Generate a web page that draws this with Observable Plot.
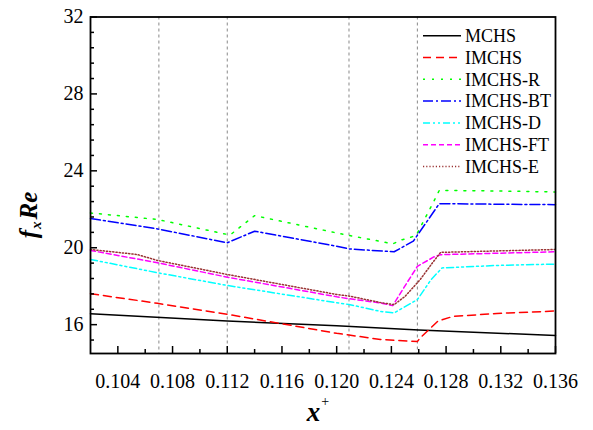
<!DOCTYPE html>
<html><head><meta charset="utf-8">
<script src="https://cdn.jsdelivr.net/npm/d3@7"></script>
<script src="https://cdn.jsdelivr.net/npm/@observablehq/plot@0.6"></script>
<style>
body{margin:0;background:#fff}
svg{display:block}
svg text, svg tspan { font-family: "Liberation Serif", "Times New Roman", serif !important; }
</style>
</head><body><div id="chart"></div>
<script>
// ---- data ----
const seriesNames = ["MCHS", "IMCHS", "IMCHS-R", "IMCHS-BT", "IMCHS-D", "IMCHS-FT", "IMCHS-E"];
const seriesColors = ["#000000", "#ff0000", "#00ff00", "#0000ff", "#00ffff", "#ff00ff", "#993333"];
const seriesDash = ["none", "8,5", "2,7", "10,3,2,3", "7,3,2,3,2,3", "5,3", "1.2,2"];

const MCHS = [[0.102,16.57],[0.112,16.19],[0.120,15.94],[0.126,15.72],[0.136,15.44]];
const IMCHS = [[0.102,17.61],[0.1069,17.11],[0.112,16.54],[0.120,15.55],[0.1209,15.46],[0.1232,15.23],[0.1259,15.12],[0.1261,15.31],[0.1274,16.18],[0.1285,16.43],[0.1317,16.58],[0.136,16.71]];
const IMCHS_R = [[0.102,21.81],[0.1069,21.47],[0.1122,20.66],[0.1140,21.67],[0.120,20.77],[0.1209,20.64],[0.1232,20.33],[0.1241,20.2],[0.1248,20.42],[0.1258,20.63],[0.1264,21.45],[0.1271,22.41],[0.1275,22.98],[0.132,22.95],[0.136,22.9]];
const IMCHS_BT = [[0.102,21.52],[0.1069,20.98],[0.112,20.26],[0.1140,20.86],[0.120,20.08],[0.1209,19.94],[0.1242,19.79],[0.1256,20.34],[0.1275,22.29],[0.136,22.24]];
const IMCHS_D = [[0.102,19.39],[0.1069,18.70],[0.112,18.04],[0.120,17.14],[0.1209,17.05],[0.1232,16.69],[0.1242,16.61],[0.1259,17.3],[0.1269,18.34],[0.1277,18.95],[0.1317,19.08],[0.136,19.15]];
const IMCHS_FT = [[0.102,19.86],[0.1069,19.22],[0.112,18.47],[0.120,17.45],[0.1209,17.35],[0.1232,17.13],[0.1241,16.99],[0.1249,17.91],[0.1259,19.03],[0.1271,19.52],[0.1276,19.64],[0.136,19.79]];
const IMCHS_E = [[0.102,19.91],[0.1054,19.65],[0.1069,19.34],[0.112,18.61],[0.120,17.57],[0.1209,17.49],[0.1232,17.15],[0.1242,17.04],[0.1250,17.47],[0.1261,18.34],[0.1270,19.21],[0.1276,19.76],[0.136,19.91]];
const seriesValues = [MCHS, IMCHS, IMCHS_R, IMCHS_BT, IMCHS_D, IMCHS_FT, IMCHS_E];

const refLinesX = [0.107, 0.112, 0.1209, 0.1259];
const xMajorTicks = [0.104, 0.108, 0.112, 0.116, 0.120, 0.124, 0.128, 0.132, 0.136];
const xMinorTicks = [0.106, 0.110, 0.114, 0.118, 0.122, 0.126, 0.130, 0.134];
const yMajorTicks = [16, 20, 24, 28, 32];
const yMinorTicks = [15.2, 16.8, 17.6, 18.4, 19.2, 20.8, 21.6, 22.4, 23.2, 24.8, 25.6, 26.4, 27.2, 28.8, 29.6, 30.4, 31.2];

// ---- build ----
const rows = seriesValues.flatMap((pts, i) => pts.map(([x, y]) => ({series: seriesNames[i], x, y})));
const font = "'Liberation Serif', 'Times New Roman', serif";

const lineMarks = seriesNames.map((name, i) =>
  Plot.line(rows.filter(d => d.series === name), {
    x: "x", y: "y", stroke: seriesColors[i], strokeWidth: 1.5,
    strokeDasharray: seriesDash[i] === "none" ? null : seriesDash[i]
  })
);

const chart = Plot.plot({
  width: 593, height: 430,
  marginLeft: 90, marginRight: 38, marginTop: 16.5, marginBottom: 77,
  style: {fontFamily: font, fontSize: "20px", color: "#000", background: "#fff"},
  x: {domain: [0.102, 0.136], label: null},
  y: {domain: [14.5, 32], label: null},
  marks: [
    Plot.ruleX(refLinesX, {stroke: "#888", strokeWidth: 1, strokeDasharray: "3,3"}),
    ...lineMarks,
    Plot.axisX(xMajorTicks, {tickSize: -7, tickPadding: 27, strokeWidth: 1.5, tickFormat: d3.format(".3f"), label: null}),
    Plot.axisX(xMinorTicks, {tickSize: -4, strokeWidth: 1.5, tickFormat: () => "", label: null}),
    Plot.axisY(yMajorTicks, {tickSize: -7, tickPadding: 14, strokeWidth: 1.5, tickFormat: d3.format("d"), label: null}),
    Plot.axisY(yMinorTicks, {tickSize: -4, strokeWidth: 1.5, tickFormat: () => "", label: null}),
    Plot.frame({stroke: "#000", strokeWidth: 1.8})
  ]
});

const svg = d3.select(chart);

// legend (inside plot area, top right)
const lg = svg.append("g").attr("font-size", 18).attr("text-anchor", "start");
seriesNames.forEach((name, i) => {
  const yy = 35.7 + i * 21.8;
  lg.append("line").attr("x1", 423).attr("x2", 461).attr("y1", yy).attr("y2", yy)
    .attr("stroke", seriesColors[i]).attr("stroke-width", 1.5)
    .attr("stroke-dasharray", seriesDash[i] === "none" ? null : seriesDash[i]);
  lg.append("text").attr("x", 465).attr("y", yy).attr("dy", "0.35em")
    .attr("text-anchor", "start").attr("fill", "#000").text(name);
});

// y axis label: f_x Re
const yl = svg.append("text").attr("transform", "translate(37,215) rotate(-90)")
  .attr("text-anchor", "middle").attr("font-weight", "bold")
  .attr("font-style", "italic").attr("font-size", 25).attr("fill", "#000");
yl.append("tspan").text("f");
yl.append("tspan").attr("font-size", 15).attr("dy", 4).attr("dx", 1).text("x");
yl.append("tspan").attr("dy", -4).attr("dx", 2).text("Re");

// x axis label: x+
const xl = svg.append("text").attr("x", 318).attr("y", 421)
  .attr("text-anchor", "middle").attr("fill", "#000");
xl.append("tspan").attr("font-weight", "bold").attr("font-style", "italic").attr("font-size", 27).text("x");
xl.append("tspan").attr("font-size", 14).attr("dy", -15).attr("dx", 1).text("+");

document.getElementById("chart").appendChild(chart);
</script>
</body></html>
